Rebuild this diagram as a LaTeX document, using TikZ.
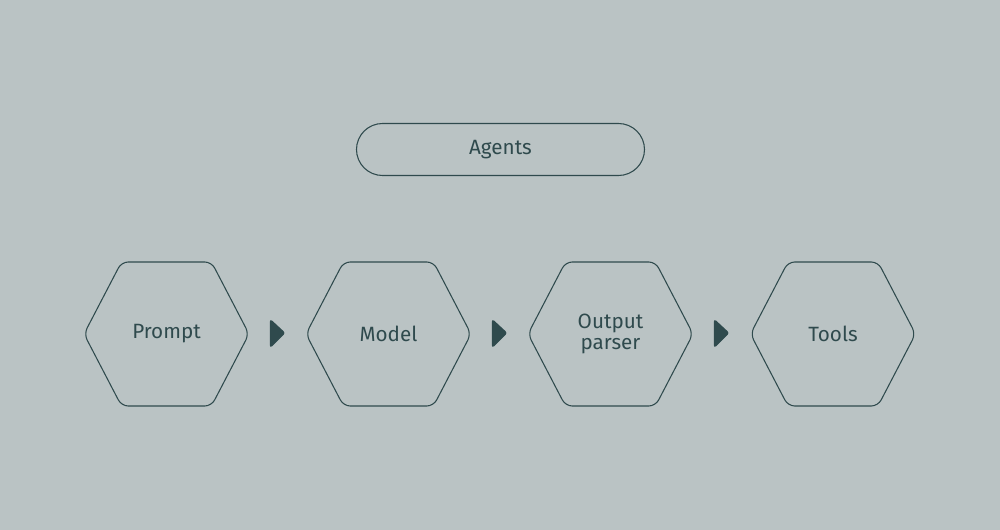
\documentclass[tikz,border=0pt]{standalone}
\usepackage{fontspec}
\setmainfont{Fira Sans}
\definecolor{bg}{HTML}{BAC3C4}
\definecolor{ink}{HTML}{2F4A4D}
\begin{document}
\begin{tikzpicture}[x=0.75pt,y=-0.75pt,
  lbl/.style={text=ink,font=\fontsize{15.5}{15.5}\selectfont,align=center},
  hexline/.style={draw=ink,line width=0.8pt,rounded corners=5pt},
  tri/.style={fill=ink,draw=ink,line width=1pt,rounded corners=1.5pt}]
\fill[bg] (0,0) rectangle (1000,530);
\node[draw=ink,line width=0.8pt,rounded corners=19.5pt,minimum width=288*0.75pt,minimum height=52*0.75pt,lbl] (agents) at (500.5,149.5) {Agents};
\foreach \n/\cx/\t in {p/166.5/Prompt,m/388.5/Model,o/610.5/{Output\\parser},t/833/Tools}{
  \draw[hexline] (\cx-82.5,334) -- (\cx-45,262) -- (\cx+45,262) -- (\cx+82.5,334) -- (\cx+45,406) -- (\cx-45,406) -- cycle;
  \node[lbl] (\n) at (\cx,334) {\t};
}
\foreach \ax in {270.5,492.5,714.5}{
  \draw[tri] (\ax,320) -- (\ax+14,333) -- (\ax,347) -- cycle;
}
\end{tikzpicture}
\end{document}
